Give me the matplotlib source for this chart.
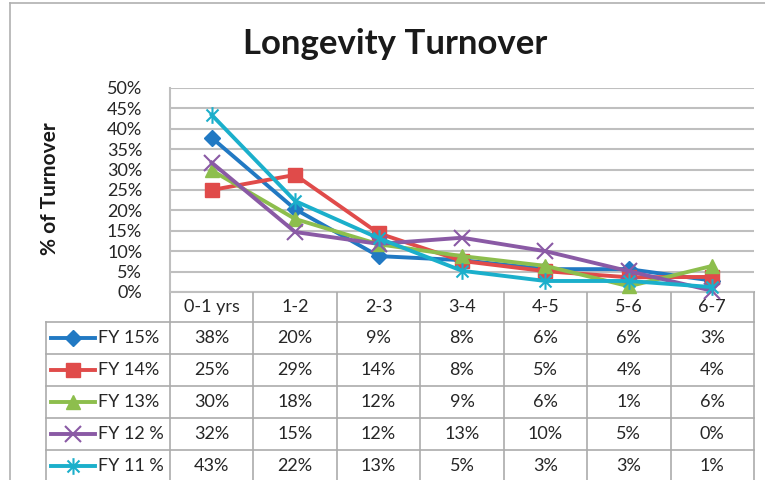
#!/usr/bin/env python3
import numpy as np
import matplotlib
matplotlib.use("Agg")
import matplotlib.pyplot as plt
from matplotlib import rcParams, ticker
from matplotlib.path import Path

categories = ["0-1 yrs", "1-2", "2-3", "3-4", "4-5", "5-6", "6-7"]
series_names = ["FY 15%", "FY 14%", "FY 13%", "FY 12 %", "FY 11 %"]

# values in percent
fy15 = [37.8, 20.3, 8.8, 7.8, 5.6, 5.6, 2.8]
fy14 = [25.0, 28.7, 14.4, 7.6, 5.1, 3.6, 3.7]
fy13 = [29.8, 17.9, 11.7, 8.8, 6.4, 1.4, 6.4]
fy12 = [31.7, 14.7, 11.8, 13.3, 10.0, 5.1, 0.3]
fy11 = [43.4, 22.3, 13.2, 5.2, 2.7, 2.7, 1.2]

colors = ["#2179C3", "#E04B4A", "#8DBE4D", "#8A5AA5", "#1BAFCB"]

star = Path([(0, -1), (0, 1), (-0.72, -0.72), (0.72, 0.72), (-0.72, 0.72), (0.72, -0.72)],
            [Path.MOVETO, Path.LINETO, Path.MOVETO, Path.LINETO, Path.MOVETO, Path.LINETO])
markers = ["D", "s", "^", "x", star]
msizes = [8, 10, 10, 11, 12]


def main():
    rcParams["font.family"] = ["Lato", "DejaVu Sans"]
    rcParams["text.color"] = "#262626"
    W, H = 765, 480
    grid_c = "#BFBFBF"
    tab_c = "#ABABAB"
    fs = 13

    fig = plt.figure(figsize=(W / 100, H / 100), dpi=100)
    fig.patch.set_facecolor("white")

    # plot area in pixels
    px0, px1, py0, py1 = 170, 754, 88, 292
    ax = fig.add_axes([px0 / W, 1 - py1 / H, (px1 - px0) / W, (py1 - py0) / H])
    ax.patch.set_visible(False)
    ax.set_xlim(-0.5, len(categories) - 0.5)
    ax.set_ylim(0, 50)
    ax.set_yticks(np.arange(0, 51, 5))
    ax.yaxis.set_major_formatter(ticker.FuncFormatter(lambda v, p: f"{v:.0f}%"))
    ax.tick_params(axis="y", length=0, pad=20, labelsize=fs, labelcolor="#262626")
    ax.set_xticks([])
    ax.grid(axis="y", color=grid_c, lw=1.5)
    ax.set_axisbelow(True)
    for s in ["top", "right", "bottom"]:
        ax.spines[s].set_visible(False)
    ax.spines["left"].set_color(grid_c)
    ax.spines["left"].set_linewidth(1.5)

    data = [fy15, fy14, fy13, fy12, fy11]
    x = np.arange(len(categories))
    for vals, c, m, ms in zip(data, colors, markers, msizes):
        mew = 1.5 if m in ("x",) or m is star else 1
        ax.plot(x, vals, color=c, lw=2.8, marker=m, markersize=ms, mec=c, mfc=c,
                mew=mew, clip_on=False, zorder=3)

    # overlay in pixel coordinates for the data table
    lay = fig.add_axes([0, 0, 1, 1], zorder=-1)
    lay.set_xlim(0, W)
    lay.set_ylim(H, 0)
    lay.axis("off")

    # outer chart border
    lay.plot([10, 10], [3, H], color="#B0B0B0", lw=1.2)
    lay.plot([10, W], [3, 3], color="#B0B0B0", lw=1.2)

    cw = (px1 - px0) / len(categories)
    edges = px0 + np.arange(len(categories) + 1) * cw
    head_b = 322
    row_h = 32
    rows_y = head_b + np.arange(len(series_names) + 1) * row_h
    legend_x = 46

    lay.plot([px0, px1], [py1, py1], color=grid_c, lw=1.5)
    for e in edges:
        lay.plot([e, e], [py1, H], color=tab_c, lw=1.2)
    lay.plot([legend_x, legend_x], [head_b, H], color=tab_c, lw=1.2)
    for ry in rows_y:
        lay.plot([legend_x, px1], [ry, ry], color=tab_c, lw=1.2)

    for i, cat in enumerate(categories):
        lay.text((edges[i] + edges[i + 1]) / 2, (py1 + head_b) / 2, cat,
                 ha="center", va="center", fontsize=fs)

    for r, (name, vals, c, m, ms) in enumerate(zip(series_names, data, colors, markers, msizes)):
        yc = rows_y[r] + row_h / 2
        mew = 1.5 if m in ("x",) or m is star else 1
        lay.plot([51, 95], [yc, yc], color=c, lw=2.8)
        lay.plot([73], [yc], marker=m, markersize=ms, color=c, mec=c, mew=mew)
        lay.text(98, yc, name, ha="left", va="center", fontsize=fs)
        for i, v in enumerate(vals):
            lay.text((edges[i] + edges[i + 1]) / 2, yc, f"{round(v)}%",
                     ha="center", va="center", fontsize=fs)

    fig.text(395 / W, 1 - 44 / H, "Longevity Turnover", ha="center", va="center",
             fontsize=25, fontweight="bold", color="#1a1a1a")
    fig.text(50 / W, 1 - 189 / H, "% of Turnover", ha="center", va="center",
             rotation=90, fontsize=15, fontweight="bold", color="#1a1a1a")

    fig.savefig("out.png", dpi=100)


if __name__ == "__main__":
    main()
